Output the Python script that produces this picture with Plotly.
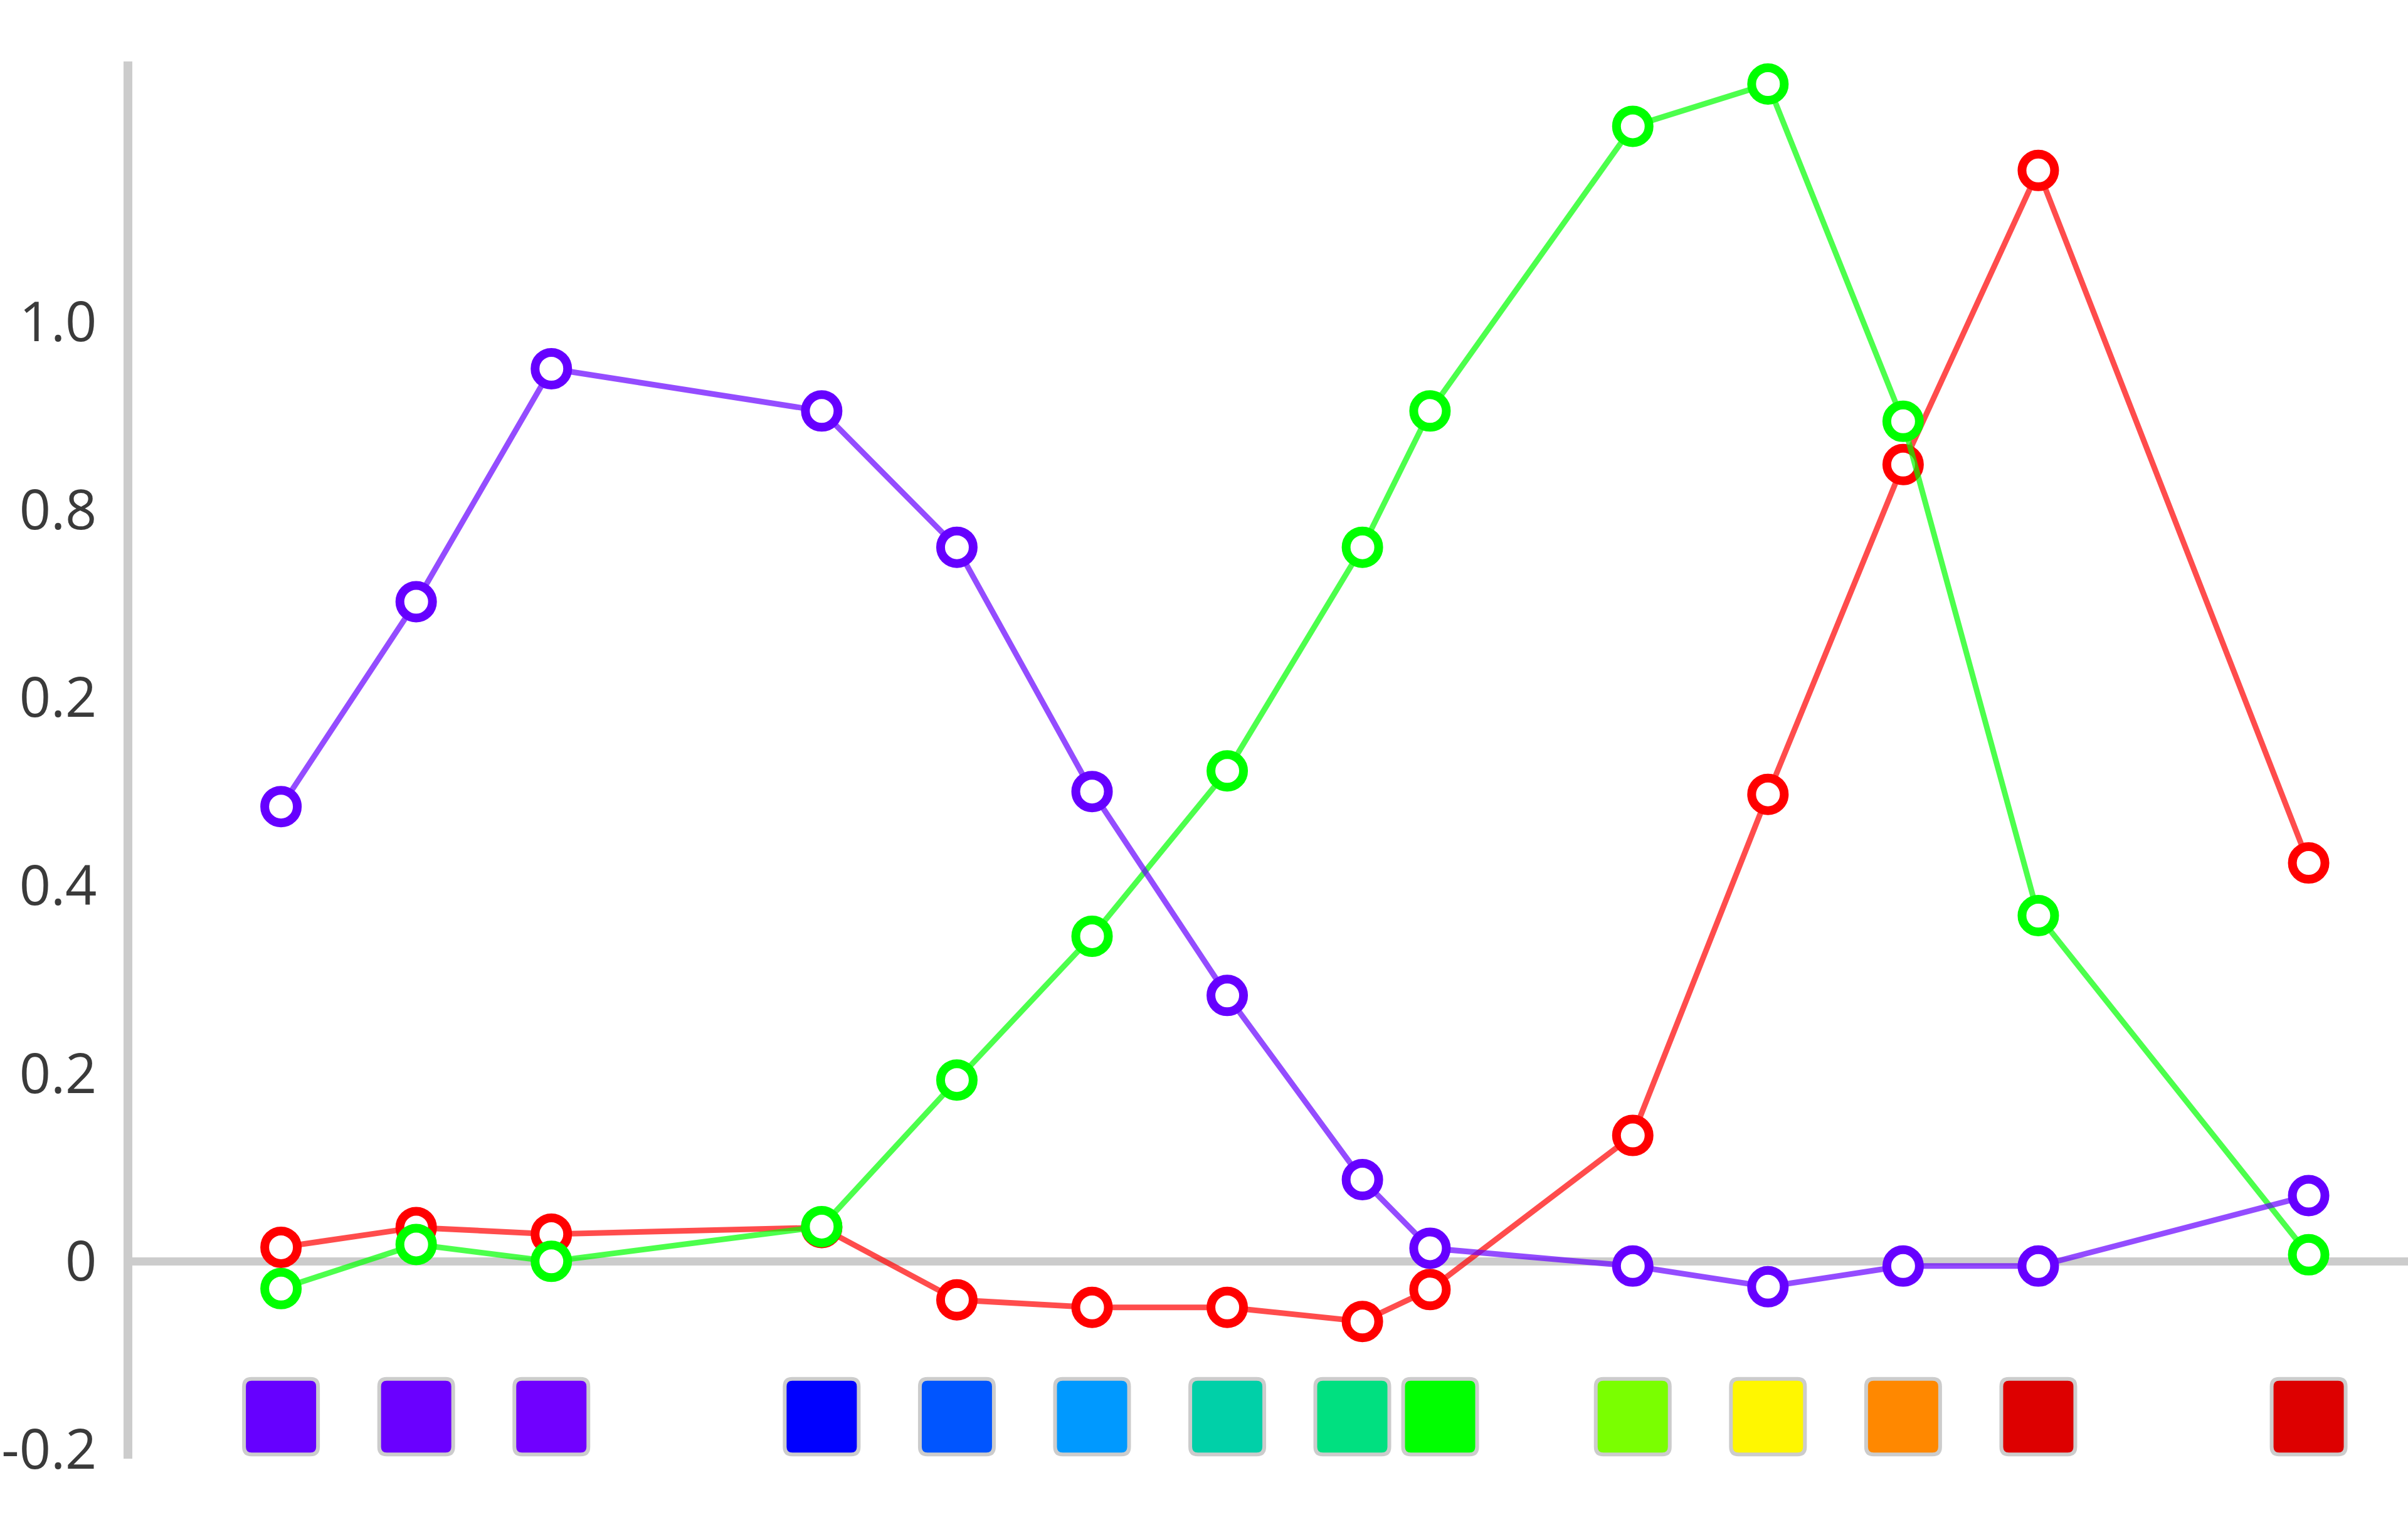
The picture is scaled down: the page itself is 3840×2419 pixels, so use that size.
import plotly.graph_objects as go

# ---- data ----
wavelengths = [400, 420, 440, 480, 500, 520, 540, 560, 570, 600, 620, 640, 660, 700]
b_values = [0.484, 0.702, 0.950, 0.905, 0.760, 0.500, 0.283, 0.087, 0.014, -0.005, -0.027, -0.005, -0.005, 0.070]
g_values = [-0.029, 0.018, 0.000, 0.037, 0.193, 0.346, 0.522, 0.760, 0.905, 1.208, 1.253, 0.894, 0.368, 0.007]
r_values = [0.015, 0.036, 0.029, 0.036, -0.041, -0.049, -0.049, -0.064, -0.030, 0.134, 0.497, 0.848, 1.161, 0.424]
swatch_colors = ["#6600ff", "#6a00ff", "#7000ff", "#0000ff", "#0055ff", "#0099ff", "#00d0a8",
                 "#00e080", "#00ff00", "#7aff00", "#fff700", "#ff8800", "#dd0000", "#dd0000"]
tick_vals = [-0.2, 0, 0.2, 0.4, 0.6, 0.8, 1.0]
tick_text = ["-0.2", "0", "0.2", "0.4", "0.2", "0.8", "1.0"]

# ---- layout constants ----
W, H = 3840, 2419
ML, MR, MT, MB = 211, 0, 98, 93
X_RANGE = [378.0, 714.7]
Y_RANGE = [-0.21, 1.277]
px_per_x = (W - ML - MR) / (X_RANGE[1] - X_RANGE[0])
px_per_y = (H - MT - MB) / (Y_RANGE[1] - Y_RANGE[0])

series = [
    ("r", r_values, "#ff0000", "rgba(255,0,0,0.7)"),
    ("g", g_values, "#00ff00", "rgba(0,255,0,0.7)"),
    ("b", b_values, "#6600ff", "rgba(102,0,255,0.7)"),
]

fig = go.Figure()
for name, vals, mcol, lcol in series:
    fig.add_trace(go.Scatter(
        x=wavelengths, y=vals, mode="lines+markers", name=name,
        line=dict(color=lcol, width=9),
        marker=dict(size=52, color="white", line=dict(color=mcol, width=14)),
        showlegend=False, hoverinfo="skip",
    ))

# swatch positions: spread apart swatches that would overlap
sw_w_px, sw_gap_px = 118, 22
min_sep = (sw_w_px + sw_gap_px) / px_per_x
pos = [float(w) for w in wavelengths]
for _ in range(20):
    for i in range(len(pos) - 1):
        d = pos[i + 1] - pos[i]
        if d < min_sep:
            push = (min_sep - d) / 2
            pos[i] -= push
            pos[i + 1] += push

half_w = sw_w_px / 2 / px_per_x
y_top = -0.125
y_bot = -0.2055
rx = 12 / px_per_x
ry = 12 / px_per_y
shapes = []
for cx, col in zip(pos, swatch_colors):
    x0, x1 = cx - half_w, cx + half_w
    path = (f"M {x0+rx},{y_top} L {x1-rx},{y_top} Q {x1},{y_top} {x1},{y_top-ry} "
            f"L {x1},{y_bot+ry} Q {x1},{y_bot} {x1-rx},{y_bot} "
            f"L {x0+rx},{y_bot} Q {x0},{y_bot} {x0},{y_bot+ry} "
            f"L {x0},{y_top-ry} Q {x0},{y_top} {x0+rx},{y_top} Z")
    shapes.append(dict(type="path", xref="x", yref="y", path=path,
                       fillcolor=col, line=dict(color="#cccccc", width=6), layer="above"))

fig.update_layout(
    width=W, height=H,
    margin=dict(l=ML, r=MR, t=MT, b=MB, pad=0, autoexpand=False),
    paper_bgcolor="white", plot_bgcolor="white",
    font=dict(family="Open Sans", size=88, color="#3a3a3a"),
    shapes=shapes,
    xaxis=dict(range=X_RANGE, showgrid=False, zeroline=False, showline=False,
               showticklabels=False, ticks="", automargin=False),
    yaxis=dict(range=Y_RANGE, showgrid=False, zeroline=True, zerolinecolor="#cccccc",
               zerolinewidth=13, showline=True, linecolor="#cccccc", linewidth=14,
               tickmode="array", tickvals=tick_vals, ticktext=tick_text, ticks="",
               ticklabelstandoff=25, automargin=False),
)

fig.write_html(
    "out.html",
    config={"displayModeBar": False},
    post_script="document.body.style.margin='0';document.body.style.overflow='hidden';",
)
